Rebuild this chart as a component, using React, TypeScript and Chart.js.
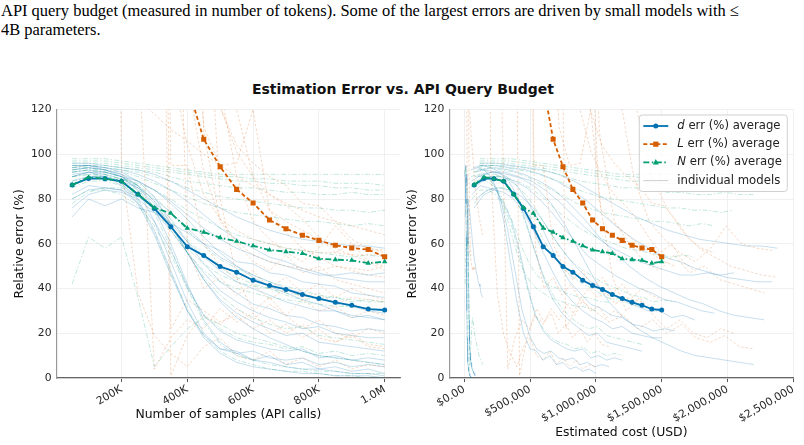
import React, { useEffect, useRef } from "react";
import { Chart, registerables } from "chart.js";

Chart.register(...registerables);

// Query budgets (number of API calls) at which each model was probed
const SAMPLES = [
  50000, 100000, 150000, 200000, 250000, 300000, 350000, 400000, 450000, 500000,
  550000, 600000, 650000, 700000, 750000, 800000, 850000, 900000, 950000, 1000000,
];
// Mean estimated spend (USD) at each budget
const AVG_COST = [
  75000, 150000, 225000, 300000, 375000, 450000, 525000, 600000, 675000, 750000,
  825000, 900000, 975000, 1050000, 1125000, 1200000, 1275000, 1350000, 1425000, 1500000,
];

// Averages over all models (relative error, %)
const D_AVG = [86.3, 89.2, 89.1, 87.9, 82.1, 75.8, 67.6, 58.7, 54.7, 49.8, 47.3, 43.7, 41.3, 39.6, 37.3, 35.5, 33.8, 32.5, 30.8, 30.4];
const L_AVG = [null, null, null, null, null, null, null, 131, 106.7, 94.4, 84.3, 78.2, 70.6, 66.7, 63.8, 61.5, 59.3, 58.1, 57.4, 54.2];
const N_AVG = [86.3, 89.7, 89.1, 87.9, 82.1, 76.1, 73.6, 67.0, 65.2, 62.7, 61.1, 59.1, 57.2, 56.5, 55.7, 53.3, 52.9, 52.6, 51.3, 52.0];

// Price per API call (USD) of each individual model
const COST_PER_CALL = [0.05, 0.08, 0.14, 1.0, 1.1, 1.2, 1.35, 1.5, 1.6, 1.75, 1.9, 2.05, 2.2, 2.28, 2.34, 2.38];

// Per-model d error (%)
const D_MODELS = [
  [90, 92, 90, 86, 78, 64, 46, 30, 18, 11, 7, 5, 4, 3, 2, 2, 1, 1, 1, 0],
  [95, 95, 93, 91, 86, 76, 60, 42, 26, 16, 11, 8, 7, 5, 4, 4, 3, 2, 2, 1],
  [72, 80, 77, 80, 76, 74, 69, 65, 60, 57, 52, 51, 47, 46, 43, 42, 41, 38, 37, 36],
  [93, 94, 93, 90, 84, 70, 52, 34, 20, 13, 12, 8, 10, 6, 7, 4, 5, 3, 4, 2],
  [88, 90, 90, 87, 80, 66, 48, 30, 19, 13, 11, 12, 9, 8, 9, 6, 7, 5, 6, 5],
  [82, 86, 85, 84, 78, 70, 57, 41, 28, 21, 17, 15, 13, 12, 13, 9, 10, 8, 9, 8],
  [94, 95, 94, 92, 88, 81, 69, 56, 44, 35, 29, 25, 22, 19, 20, 16, 15, 14, 13, 12],
  [76, 82, 84, 83, 80, 74, 66, 56, 47, 39, 34, 30, 27, 25, 22, 23, 20, 19, 18, 18],
  [92, 93, 92, 90, 86, 79, 71, 61, 51, 43, 38, 33, 31, 28, 27, 24, 23, 21, 22, 21],
  [80, 84, 85, 84, 81, 76, 69, 61, 54, 48, 43, 40, 37, 34, 32, 30, 30, 27, 28, 26],
  [86, 90, 90, 88, 85, 80, 74, 67, 60, 54, 50, 46, 43, 40, 38, 35, 34, 32, 30, 29],
  [90, 92, 92, 90, 88, 84, 79, 73, 67, 62, 58, 55, 52, 50, 48, 46, 46, 47, 46, 47],
  [91, 92, 91, 89, 85, 78, 68, 56, 44, 34, 27, 22, 18, 15, 12, 10, 9, 8, 7, 6],
  [93, 94, 93, 91, 88, 84, 78, 71, 63, 56, 50, 45, 41, 38, 35, 33, 30, 28, 27, 26],
  [95, 95, 94, 93, 91, 88, 84, 79, 73, 67, 62, 58, 54, 52, 49, 47, 45, 44, 43, 43],
  [96, 96, 95, 94, 93, 91, 88, 84, 80, 76, 72, 69, 66, 64, 62, 61, 60, 59, 59, 58],
];

// Per-model L error (%)
const L_MODELS = [
  [620, 540, 450, 360, 270, 190, 140, 104, 82, 71, 66, 62, 60, 58, 57, 56, 56, 55, 55, 55],
  [880, 760, 640, 500, 390, 290, 205, 135, 92, 71, 61, 55, 52, 50, 49, 48, 50, 49, 48, 50],
  [165, 152, 141, 132, 124, 118, 111, 106, 100, 95, 90, 86, 82, 78, 75, 72, 70, 68, 66, 64],
  [1400, 1150, 820, 95, 38, 19, 11, 5, 14, 18, 10, 8, 12, 6, 9, 5, 8, 4, 6, 5],
  [1800, 1500, 1200, 950, 150, 4, 18, 26, 22, 31, 25, 29, 20, 24, 18, 22, 16, 20, 15, 14],
  [2100, 1700, 1400, 1100, 800, 420, 1, 19, 28, 24, 31, 26, 33, 28, 35, 30, 32, 27, 30, 28],
  [2400, 1900, 1500, 1250, 1000, 600, 310, 58, 40, 45, 37, 42, 35, 40, 36, 38, 33, 36, 35, 34],
  [2600, 2200, 1800, 1400, 1000, 640, 95, 95, 60, 50, 44, 48, 40, 45, 38, 42, 36, 40, 37, 35],
  [3000, 2500, 2000, 1500, 1100, 760, 480, 210, 112, 95, 96, 120, 75, 70, 66, 62, 58, 55, 52, 50],
  [3200, 2700, 2200, 1700, 1250, 850, 560, 350, 180, 121, 101, 90, 82, 77, 71, 63, 56, 60, 52, 48],
  [2800, 2300, 1700, 1200, 800, 520, 355, 240, 160, 121, 104, 96, 90, 86, 78, 77, 70, 62, 58, 56],
  [3500, 3000, 2400, 1900, 1400, 900, 600, 400, 200, 80, 45, 30, 36, 28, 22, 26, 20, 18, 22, 20],
  [3300, 2700, 2100, 1500, 1000, 600, 22, 35, 30, 25, 28, 22, 26, 20, 24, 18, 16, 19, 14, 13],
  [3600, 3000, 2500, 2000, 1300, 800, 550, 300, 110, 70, 60, 52, 48, 55, 47, 50, 44, 42, 40, 38],
  [3800, 3200, 2600, 2100, 1500, 900, 650, 450, 250, 130, 90, 70, 62, 56, 52, 58, 68, 60, 58, 57],
  [4000, 3400, 2800, 2200, 1600, 1000, 700, 500, 320, 200, 120, 90, 75, 65, 58, 54, 50, 48, 46, 45],
];

// Per-model N error (%)
const N_MODELS = [
  [92, 93, 91, 87, 79, 65, 47, 31, 19, 12, 8, 6, 4, 3, 3, 2, 1, 1, 0, 0],
  [94, 94, 92, 90, 85, 74, 58, 40, 25, 15, 10, 8, 6, 5, 4, 3, 3, 2, 2, 2],
  [42, 63, 58, 63, 36, 5, 14, 22, 27, 24, 20, 18, 16, 14, 12, 10, 9, 8, 7, 6],
  [90, 91, 90, 88, 84, 76, 66, 56, 48, 43, 40, 38, 36, 35, 34, 33, 32, 32, 31, 30],
  [85, 88, 88, 86, 82, 75, 67, 58, 51, 46, 43, 41, 40, 38, 37, 36, 36, 35, 34, 34],
  [80, 84, 84, 82, 77, 68, 55, 40, 28, 22, 18, 16, 15, 13, 14, 11, 12, 10, 11, 10],
  [92, 93, 92, 90, 86, 79, 68, 56, 45, 37, 31, 27, 24, 22, 23, 19, 18, 17, 16, 15],
  [78, 83, 85, 85, 82, 77, 70, 62, 55, 49, 45, 42, 40, 37, 35, 36, 33, 32, 31, 30],
  [90, 91, 91, 89, 86, 81, 74, 66, 59, 53, 49, 46, 43, 41, 39, 37, 36, 34, 35, 34],
  [88, 90, 90, 89, 87, 84, 80, 75, 71, 67, 64, 62, 60, 58, 57, 56, 55, 54, 55, 54],
  [93, 94, 93, 92, 90, 87, 84, 81, 78, 76, 74, 73, 72, 71, 70, 70, 69, 68, 69, 68],
  [94, 95, 94, 93, 92, 90, 88, 85, 83, 81, 80, 79, 78, 77, 76, 76, 75, 75, 74, 75],
  [95, 95, 95, 94, 93, 92, 90, 88, 87, 86, 85, 85, 84, 83, 83, 82, 82, 83, 82, 82],
  [96, 96, 96, 95, 94, 93, 92, 91, 90, 89, 88, 88, 87, 87, 86, 86, 85, 85, 84, 84],
  [97, 97, 97, 96, 95, 94, 93, 92, 91, 90, 90, 89, 89, 88, 88, 88, 87, 87, 87, 86],
  [98, 98, 98, 97, 96, 95, 94, 93, 92, 91, 91, 91, 91, 91, 91, 91, 91, 91, 91, 91],
];

// Axis ticks
const Y_TICKS = [0, 20, 40, 60, 80, 100, 120];
const SAMPLE_TICKS = [200000, 400000, 600000, 800000, 1000000];
const SAMPLE_TICK_LABELS = ["200K", "400K", "600K", "800K", "1.0M"];
const COST_TICKS = [0, 500000, 1000000, 1500000, 2000000, 2500000];
const COST_TICK_LABELS = ["$0.00", "$500,000", "$1,000,000", "$1,500,000", "$2,000,000", "$2,500,000"];

const BLUE = "#0072B2";
const ORANGE = "#D55E00";
const GREEN = "#009E73";
const FONT = "DejaVu Sans";

const LEGEND_ITEMS = [
  { sym: "d", rest: " err (%) average", color: BLUE, dash: [], marker: "circle" },
  { sym: "L", rest: " err (%) average", color: ORANGE, dash: [4, 2.5], marker: "rect" },
  { sym: "N", rest: " err (%) average", color: GREEN, dash: [6, 2.5, 1.5, 2.5], marker: "triangle" },
  { sym: "", rest: "individual models", color: "rgba(150,150,150,0.45)", dash: [], marker: "" },
];

function toPoints(values: (number | null)[], xs: number[]) {
  const pts: { x: number; y: number }[] = [];
  values.forEach((v, i) => {
    if (v !== null) pts.push({ x: xs[i], y: v });
  });
  return pts;
}

function drawMarker(ctx: CanvasRenderingContext2D, kind: string, x: number, y: number) {
  ctx.beginPath();
  if (kind === "circle") ctx.arc(x, y, 2.5, 0, Math.PI * 2);
  else if (kind === "rect") ctx.rect(x - 2.6, y - 2.6, 5.2, 5.2);
  else if (kind === "triangle") {
    ctx.moveTo(x, y - 3.3);
    ctx.lineTo(x + 3, y + 2);
    ctx.lineTo(x - 3, y + 2);
    ctx.closePath();
  }
  ctx.fill();
}

const legendPlugin = {
  id: "avgLegend",
  afterDraw(chart: any) {
    const { ctx, chartArea: a } = chart;
    const w = 148;
    const h = 76.5;
    const x0 = a.right - 6 - w;
    const y0 = a.top + 5.5;
    ctx.save();
    ctx.beginPath();
    ctx.roundRect(x0, y0, w, h, 3);
    ctx.fillStyle = "rgba(255,255,255,0.85)";
    ctx.fill();
    ctx.strokeStyle = "#d0d0d0";
    ctx.lineWidth = 1;
    ctx.stroke();
    LEGEND_ITEMS.forEach((it, i) => {
      const y = y0 + 11 + i * 18.2;
      ctx.strokeStyle = it.color;
      ctx.fillStyle = it.color;
      ctx.lineWidth = it.marker ? 1.8 : 1;
      ctx.setLineDash(it.dash);
      ctx.beginPath();
      ctx.moveTo(x0 + 4, y);
      ctx.lineTo(x0 + 29, y);
      ctx.stroke();
      ctx.setLineDash([]);
      if (it.marker) drawMarker(ctx, it.marker, x0 + 16.5, y);
      ctx.fillStyle = "#222";
      ctx.textBaseline = "middle";
      ctx.textAlign = "left";
      let tx = x0 + 38;
      if (it.sym) {
        ctx.font = `italic 11.7px "${FONT}"`;
        ctx.fillText(it.sym, tx, y);
        tx += ctx.measureText(it.sym).width;
      }
      ctx.font = `11.7px "${FONT}"`;
      ctx.fillText(it.rest, tx, y);
    });
    ctx.restore();
  },
};

type PanelSpec = {
  avgX: number[];
  modelX: (m: number) => number[];
  xMin: number;
  xMax: number;
  xTicks: number[];
  xLabels: string[];
  xTitle: string;
  xTitlePadBottom: number;
  yTitlePadTop: number;
  yAxisWidth: number;
  padRight: number;
};

function buildConfig(p: PanelSpec, withLegend: boolean): any {
  const avg = (data: any, color: string, dash: number[], pointStyle: string, radius: number) => ({
    data,
    borderColor: color,
    backgroundColor: color,
    pointBackgroundColor: color,
    pointBorderColor: color,
    pointBorderWidth: 0,
    borderWidth: 1.8,
    borderDash: dash,
    pointStyle,
    pointRadius: radius,
    tension: 0,
    clip: 0,
  });
  const thin = (data: any, color: string, dash: number[]) => ({
    data,
    borderColor: color,
    borderWidth: 0.9,
    borderDash: dash,
    pointRadius: 0,
    tension: 0,
    clip: 0,
  });

  const datasets: any[] = [
    avg(toPoints(N_AVG, p.avgX), GREEN, [6, 2.5, 1.5, 2.5], "triangle", 3.1),
    avg(toPoints(L_AVG, p.avgX), ORANGE, [4, 2.5], "rect", 3.6),
    avg(toPoints(D_AVG, p.avgX), BLUE, [], "circle", 2.5),
  ];
  COST_PER_CALL.forEach((_, m) => {
    const xs = p.modelX(m);
    datasets.push(thin(toPoints(D_MODELS[m], xs), "rgba(0,114,178,0.25)", []));
    datasets.push(thin(toPoints(L_MODELS[m], xs), "rgba(213,94,0,0.27)", [2.5, 2]));
    datasets.push(thin(toPoints(N_MODELS[m], xs), "rgba(0,158,115,0.27)", [5, 2, 1.5, 2]));
  });

  return {
    type: "line",
    data: { datasets },
    plugins: withLegend ? [legendPlugin] : [],
    options: {
      animation: false,
      responsive: false,
      devicePixelRatio: 1,
      events: [],
      layout: { padding: { left: 0, right: p.padRight, top: 14.5, bottom: 0 } },
      plugins: { legend: { display: false }, tooltip: { enabled: false }, title: { display: false } },
      scales: {
        x: {
          type: "linear",
          min: p.xMin,
          max: p.xMax,
          afterBuildTicks: (s: any) => {
            s.ticks = p.xTicks.map((v) => ({ value: v }));
          },
          afterFit: (s: any) => {
            s.height = 67;
          },
          ticks: {
            autoSkip: false,
            minRotation: 30,
            maxRotation: 30,
            padding: 1,
            color: "#262626",
            font: { family: FONT, size: 10.8 },
            callback: (v: number) => {
              const k = p.xTicks.indexOf(v);
              return k >= 0 ? p.xLabels[k] : "";
            },
          },
          grid: { color: "#ececec", lineWidth: 0.8, drawTicks: true, tickLength: 4, tickColor: "#555", tickWidth: 1 },
          border: { display: true, color: "#666", width: 1.2 },
          title: {
            display: true,
            text: p.xTitle,
            color: "#111",
            font: { family: FONT, size: 12.4 },
            padding: { top: 0, bottom: p.xTitlePadBottom },
          },
        },
        y: {
          type: "linear",
          min: 0,
          max: 120,
          afterBuildTicks: (s: any) => {
            s.ticks = Y_TICKS.map((v) => ({ value: v }));
          },
          afterFit: (s: any) => {
            s.width = p.yAxisWidth;
          },
          ticks: { padding: 5, color: "#262626", font: { family: FONT, size: 10.8 } },
          grid: { color: "#ececec", lineWidth: 0.8, drawTicks: false },
          border: { display: true, color: "#999", width: 1.2 },
          title: {
            display: true,
            text: "Relative error (%)",
            color: "#111",
            font: { family: FONT, size: 12.4 },
            padding: { top: p.yTitlePadTop, bottom: 0 },
          },
        },
      },
    },
  };
}

export default function App() {
  const leftRef = useRef<HTMLCanvasElement>(null);
  const rightRef = useRef<HTMLCanvasElement>(null);

  useEffect(() => {
    document.body.style.margin = "0";
    const left = new Chart(
      leftRef.current as HTMLCanvasElement,
      buildConfig(
        {
          avgX: SAMPLES,
          modelX: () => SAMPLES,
          xMin: 2500,
          xMax: 1047500,
          xTicks: SAMPLE_TICKS,
          xLabels: SAMPLE_TICK_LABELS,
          xTitle: "Number of samples (API calls)",
          xTitlePadBottom: 22.5,
          yTitlePadTop: 12.6,
          yAxisWidth: 56.5,
          padRight: 9.7,
        },
        false
      )
    );
    const right = new Chart(
      rightRef.current as HTMLCanvasElement,
      buildConfig(
        {
          avgX: AVG_COST,
          modelX: (m) => SAMPLES.map((s) => s * COST_PER_CALL[m]),
          xMin: -114000,
          xMax: 2500000,
          xTicks: COST_TICKS,
          xLabels: COST_TICK_LABELS,
          xTitle: "Estimated cost (USD)",
          xTitlePadBottom: 4.3,
          yTitlePadTop: 5.6,
          yAxisWidth: 49.3,
          padRight: 10.7,
        },
        true
      )
    );
    return () => {
      left.destroy();
      right.destroy();
    };
  }, []);

  return (
    <div style={{ position: "relative", width: 804, height: 445, overflow: "hidden", background: "#fff" }}>
      <div
        style={{
          position: "absolute",
          left: 1,
          top: 1,
          fontFamily: '"Liberation Serif", serif',
          fontSize: 17.5,
          lineHeight: "19px",
          color: "#000",
          whiteSpace: "nowrap",
          transform: "scaleX(0.94)",
          transformOrigin: "0 0",
        }}
      >
        API query budget (measured in number of tokens). Some of the largest errors are driven by small models with ≤
        <br />
        4B parameters.
      </div>
      <div
        style={{
          position: "absolute",
          left: 0,
          top: 80.5,
          width: 806,
          textAlign: "center",
          fontFamily: `"${FONT}"`,
          fontWeight: "bold",
          fontSize: 14,
          lineHeight: "17px",
          color: "#111",
        }}
      >
        Estimation Error vs. API Query Budget
      </div>
      <canvas ref={leftRef} width={410} height={350} style={{ position: "absolute", left: 0, top: 95 }} />
      <canvas ref={rightRef} width={404} height={350} style={{ position: "absolute", left: 400, top: 95 }} />
    </div>
  );
}
